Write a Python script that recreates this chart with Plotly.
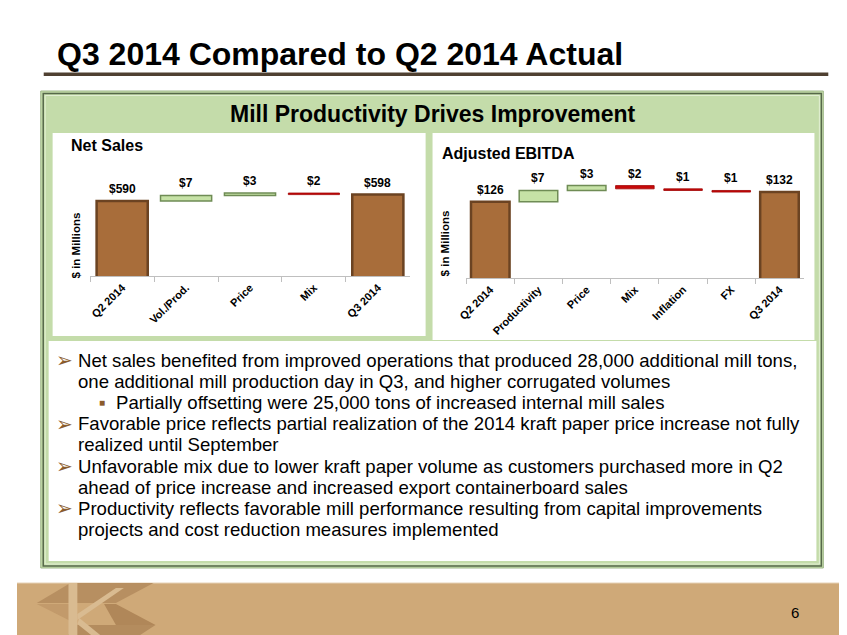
import plotly.graph_objects as go
from plotly.subplots import make_subplots

# Net sales bridge, $ in millions
ns_labels = ["Q2 2014", "Vol./Prod.", "Price", "Mix", "Q3 2014"]
ns_values = [590, 7, 3, -2, 598]
ns_measure = ["absolute", "relative", "relative", "relative", "total"]

# Adjusted EBITDA bridge, $ in millions
eb_labels = ["Q2 2014", "Productivity", "Price", "Mix", "Inflation", "FX", "Q3 2014"]
eb_values = [126, 7, 3, -2, -1, -1, 132]
eb_measure = ["absolute", "relative", "relative", "relative", "relative", "relative", "total"]

bullets = [
    ("arrow", "Net sales benefited from improved operations that produced 28,000 additional mill tons,"),
    ("cont", "one additional mill production day in Q3, and higher corrugated volumes"),
    ("sub", "Partially offsetting were 25,000 tons of increased internal mill sales"),
    ("arrow", "Favorable price reflects partial realization of the 2014 kraft paper price increase not fully"),
    ("cont", "realized until September"),
    ("arrow", "Unfavorable mix due to lower kraft paper volume as customers purchased more in Q2"),
    ("cont", "ahead of price increase and increased export containerboard sales"),
    ("arrow", "Productivity reflects favorable mill performance resulting from capital improvements"),
    ("cont", "projects and cost reduction measures implemented"),
]

W, H = 847, 635
FONT = "Liberation Sans, Arial, DejaVu Sans, sans-serif"
GREEN = "#c4dcaa"
BROWN = "#a86d3a"
BULLET = "#8a5c2c"


def px(x):
    return x / W


def py(y):
    return 1 - y / H


def bar_tops(values, measures):
    tops, run = [], 0
    for v, m in zip(values, measures):
        if m == "absolute":
            run = v
            tops.append(v)
        elif m == "total":
            tops.append(run)
        else:
            tops.append(max(run, run + v))
            run += v
    return tops


fig = make_subplots(rows=1, cols=2)

for col, labels, values, measure in [(1, ns_labels, ns_values, ns_measure),
                                     (2, eb_labels, eb_values, eb_measure)]:
    fig.add_trace(go.Waterfall(
        x=labels, y=values, measure=measure,
        connector=dict(visible=False),
        totals=dict(marker=dict(color=BROWN, line=dict(color="#6b4322", width=2.5))),
        increasing=dict(marker=dict(color="#c6e2a6", line=dict(color="#6f8c55", width=1.5))),
        decreasing=dict(marker=dict(color="#c80a0a", line=dict(color="#a00000", width=0.8))),
        width=0.8, showlegend=False, hoverinfo="x+y",
    ), row=1, col=col)

    ref = "" if col == 1 else "2"
    for lab, v, top in zip(labels, values, bar_tops(values, measure)):
        fig.add_annotation(x=lab, y=top, xref="x" + ref, yref="y" + ref,
                           text=f"${abs(v)}", showarrow=False, yanchor="bottom", yshift=3,
                           font=dict(family=FONT, size=12, color="black", weight="bold"))

axis_x = dict(showline=True, linecolor="#bfbfbf", linewidth=1, ticks="outside",
              tickson="boundaries", ticklen=5, tickcolor="#bfbfbf", tickangle=-45,
              tickfont=dict(family=FONT, size=11, color="black", weight="bold"),
              showgrid=False, zeroline=False, fixedrange=True)
axis_y = dict(showticklabels=False, showgrid=False, zeroline=False, showline=False,
              ticks="", fixedrange=True)

fig.update_xaxes(axis_x)
fig.update_yaxes(axis_y)
fig.update_layout(
    xaxis=dict(domain=[px(74), px(397)]),
    xaxis2=dict(domain=[px(454), px(795)]),
    yaxis=dict(domain=[py(268), py(140)], range=[495, 657]),
    yaxis2=dict(domain=[py(270), py(140)], range=[79, 159.2]),
)

shapes = [
    # title rule
    dict(type="rect", x0=px(27), x1=px(820), y0=py(64.5), y1=py(68), fillcolor="#4f4031", line_width=0),
    # green frame
    dict(type="rect", x0=px(24), x1=px(815), y0=py(83), y1=py(560), fillcolor=GREEN,
         line=dict(color="#9fb88a", width=1)),
    dict(type="rect", x0=px(26.5), x1=px(813), y0=py(85.5), y1=py(558),
         line=dict(color="#56684a", width=1.5)),
    dict(type="rect", x0=px(28.5), x1=px(811), y0=py(87.5), y1=py(556),
         line=dict(color="#e2efd3", width=1)),
    # white panels
    dict(type="rect", x0=px(36), x1=px(413), y0=py(125), y1=py(328), fillcolor="white", line_width=0),
    dict(type="rect", x0=px(420), x1=px(806), y0=py(125), y1=py(332), fillcolor="white", line_width=0),
    dict(type="rect", x0=px(32), x1=px(808), y0=py(333), y1=py(553), fillcolor="white", line_width=0),
    # footer band
    dict(type="rect", x0=0, x1=1, y0=0, y1=py(575), fillcolor="#cfa978", line_width=0),
    dict(type="line", x0=0, x1=1, y0=py(575), y1=py(575), line=dict(color="#e6d2b6", width=1)),
]


def poly(pts, color):
    path = "M " + " L ".join(f"{px(x)},{py(y)}" for x, y in pts) + " Z"
    return dict(type="path", path=path, fillcolor=color, line_width=0)


# footer logo
shapes += [
    poly([(20, 595), (54, 575), (138, 575), (100, 595)], "#b78f61"),
    poly([(20, 596), (60, 596), (60, 616)], "#c29a6b"),
    poly([(88, 596), (100, 596), (140, 617), (100, 617)], "#b08759"),
    poly([(60, 617), (140, 617), (112, 635), (45, 635)], "#b48c5e"),
    poly([(52, 575), (61, 575), (61, 635), (52, 635)], "#d9bb91"),
    poly([(61, 606), (100, 580), (108, 580), (61, 612)], "#d9bb91"),
    poly([(63, 610), (94, 635), (85, 635), (61, 616)], "#d9bb91"),
]
for s in shapes:
    s.setdefault("xref", "paper")
    s.setdefault("yref", "paper")
    s["layer"] = "below"
fig.update_layout(shapes=shapes)

texts = [
    dict(x=px(38), y=py(46), text="Q3 2014 Compared to Q2 2014 Actual", xanchor="left",
         font=dict(size=32, weight="bold")),
    dict(x=px(420), y=py(106), text="Mill Productivity Drives Improvement",
         font=dict(size=23, weight="bold")),
    dict(x=px(53), y=py(137), text="Net Sales", xanchor="left", font=dict(size=16, weight="bold")),
    dict(x=px(428), y=py(145), text="Adjusted EBITDA", xanchor="left",
         font=dict(size=16, weight="bold")),
    dict(x=px(52), y=py(237), text="$ in Millions", textangle=-90,
         font=dict(size=11.5, weight="bold")),
    dict(x=px(433), y=py(235), text="$ in Millions", textangle=-90,
         font=dict(size=11.5, weight="bold")),
    dict(x=px(792), y=py(604), text="6", font=dict(size=15)),
]

y = 352
for kind, line in bullets:
    if kind == "arrow":
        texts.append(dict(x=px(37), y=py(y), text="➢", xanchor="left",
                          font=dict(size=20, color=BULLET)))
        texts.append(dict(x=px(60), y=py(y), text=line, xanchor="left", font=dict(size=18.6)))
    elif kind == "sub":
        texts.append(dict(x=px(81), y=py(y), text="■", xanchor="left",
                          font=dict(size=10, color=BULLET)))
        texts.append(dict(x=px(98), y=py(y), text=line, xanchor="left", font=dict(size=18.6)))
    else:
        texts.append(dict(x=px(60), y=py(y), text=line, xanchor="left", font=dict(size=18.6)))
    y += 21.2

for t in texts:
    t["xref"] = "paper"
    t["yref"] = "paper"
    t["showarrow"] = False
    t["yanchor"] = "middle"
    t["font"] = dict(family=FONT, **{"color": "black", **t["font"]})
    fig.add_annotation(**t)

fig.update_layout(
    width=W, height=H, margin=dict(l=0, r=0, t=0, b=0),
    paper_bgcolor="white", plot_bgcolor="rgba(0,0,0,0)",
    showlegend=False,
)

fig.write_html("out.html")
